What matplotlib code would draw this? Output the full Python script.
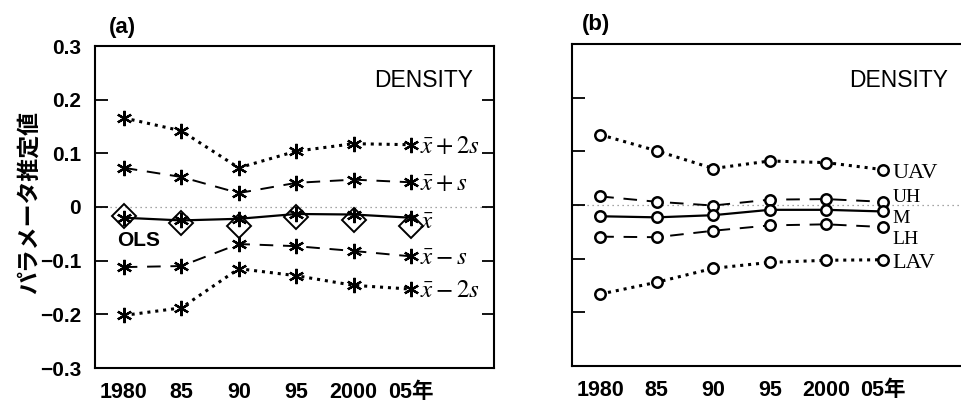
import matplotlib
matplotlib.use("Agg")
import matplotlib.pyplot as plt
import numpy as np

# ---- data ----
years = [1980, 1985, 1990, 1995, 2000, 2005]
year_labels = ["1980", "85", "90", "95", "2000", "05年"]
y_ticks = [-0.3, -0.2, -0.1, 0.0, 0.1, 0.2, 0.3]
y_tick_labels = ["−0.3", "−0.2", "−0.1", "0", "0.1", "0.2", "0.3"]

# panel (a)
mean_p2s = [0.166, 0.142, 0.073, 0.104, 0.118, 0.116]
mean_p1s = [0.073, 0.056, 0.026, 0.045, 0.051, 0.046]
mean_x = [-0.020, -0.025, -0.022, -0.013, -0.014, -0.020]
ols = [-0.016, -0.030, -0.035, -0.018, -0.025, -0.035]
mean_m1s = [-0.112, -0.110, -0.069, -0.073, -0.082, -0.092]
mean_m2s = [-0.202, -0.188, -0.115, -0.128, -0.146, -0.153]

# panel (b)
uav = [0.131, 0.101, 0.068, 0.082, 0.079, 0.066]
uh = [0.016, 0.006, -0.001, 0.010, 0.011, 0.006]
m = [-0.021, -0.023, -0.019, -0.009, -0.009, -0.012]
lh = [-0.059, -0.060, -0.048, -0.038, -0.036, -0.041]
lav = [-0.166, -0.144, -0.118, -0.107, -0.103, -0.102]

plt.rcParams['mathtext.fontset'] = 'stix'
SANS = ['Liberation Sans', 'Noto Sans CJK JP']
CJK = ['Noto Sans CJK JP', 'Liberation Sans']

fig = plt.figure(figsize=(9.62, 4.05), dpi=100)
ax1 = fig.add_axes([95/962, 1-368/405, 399/962, 322/405])
ax2 = fig.add_axes([572/962, 1-366/405, 392/962, 322/405])

asterisk = (6, 2, 0)
dotted = (0, (1, 1.6))
dashed = (0, (7, 5))

def setup(ax, labels, dens_xy):
    ax.set_xlim(1977.5, 2012.2)
    ax.set_ylim(-0.3, 0.3)
    ax.set_xticks(years)
    ax.set_xticklabels(year_labels, fontfamily=SANS, fontweight='bold', fontsize=15.5)
    ax.tick_params(axis='x', length=0, pad=10)
    ax.set_yticks(y_ticks)
    if labels:
        ax.set_yticklabels(y_tick_labels, fontfamily=SANS, fontweight='bold', fontsize=15)
    else:
        ax.set_yticklabels([])
    ax.tick_params(axis='y', direction='in', length=9, width=1.3, pad=10,
                   right=True)
    for s in ax.spines.values():
        s.set_linewidth(1.5)
    ax.axhline(0, color='#888888', lw=0.9, ls=(0, (1, 3)), zorder=0)
    ax.text(dens_xy[0], dens_xy[1], "DENSITY", transform=ax.transAxes, ha='right',
            va='center', fontfamily=SANS, fontsize=16.5)

setup(ax1, True, (0.947, 0.894))
setup(ax2, False, (0.959, 0.888))
ax2.spines['right'].set_visible(False)
ax2.tick_params(axis='y', right=False)

ax1.text(0.035, 1.056, "(a)", transform=ax1.transAxes, fontfamily=SANS,
         fontsize=16, ha='left', va='center', fontweight='bold')
ax2.text(0.024, 1.062, "(b)", transform=ax2.transAxes, fontfamily=SANS,
         fontsize=16, ha='left', va='center', fontweight='bold')
fig.text(29/962, 0.5, "パラメータ推定値", rotation=90, ha='center', va='center',
         fontfamily=CJK, fontsize=16.5, fontweight='bold')

# panel (a) lines
series_a = [
    (mean_p2s, dotted, 2.2, r'$\bar{x}+2s$', -1),
    (mean_p1s, dashed, 1.4, r'$\bar{x}+s$', -1),
    (mean_x, '-', 1.6, r'$\bar{x}$', -3),
    (mean_m1s, dashed, 1.4, r'$\bar{x}-s$', -1),
    (mean_m2s, dotted, 2.2, r'$\bar{x}-2s$', -1),
]
for vals, ls, lw, lab, dy in series_a:
    ax1.plot(years, vals, color='black', ls=ls, lw=lw, marker=asterisk,
             markersize=11, markeredgewidth=1.6, zorder=3)
    ax1.annotate(lab, xy=(years[-1], vals[-1]), xytext=(6, dy),
                 textcoords='offset points', va='center', ha='left',
                 fontsize=18, annotation_clip=False)
ax1.plot(years, ols, ls='none', marker='D', markersize=12.5,
         markerfacecolor='none', markeredgecolor='black', markeredgewidth=1.4,
         zorder=4)
ax1.text(years[0] - 0.55, -0.062, "OLS", fontfamily=SANS, fontsize=15,
         fontweight='bold', ha='left', va='center')

# panel (b) lines
series_b = [
    (uav, dotted, 2.2, "UAV", -3, 16),
    (uh, dashed, 1.4, "UH", 3, 14),
    (m, '-', 1.6, "M", -5, 14),
    (lh, dashed, 1.4, "LH", -9, 14),
    (lav, dotted, 2.2, "LAV", -3, 16),
]
for vals, ls, lw, lab, dy, fs in series_b:
    ax2.plot(years, vals, color='black', ls=ls, lw=lw, marker='o',
             markersize=7.5, markerfacecolor='white', markeredgewidth=1.8, zorder=3)
    ax2.annotate(lab, xy=(years[-1], vals[-1]), xytext=(7, dy),
                 textcoords='offset points', va='center', ha='left',
                 fontfamily='Liberation Serif', fontsize=fs, annotation_clip=False)

fig.savefig("out.png", dpi=100)
